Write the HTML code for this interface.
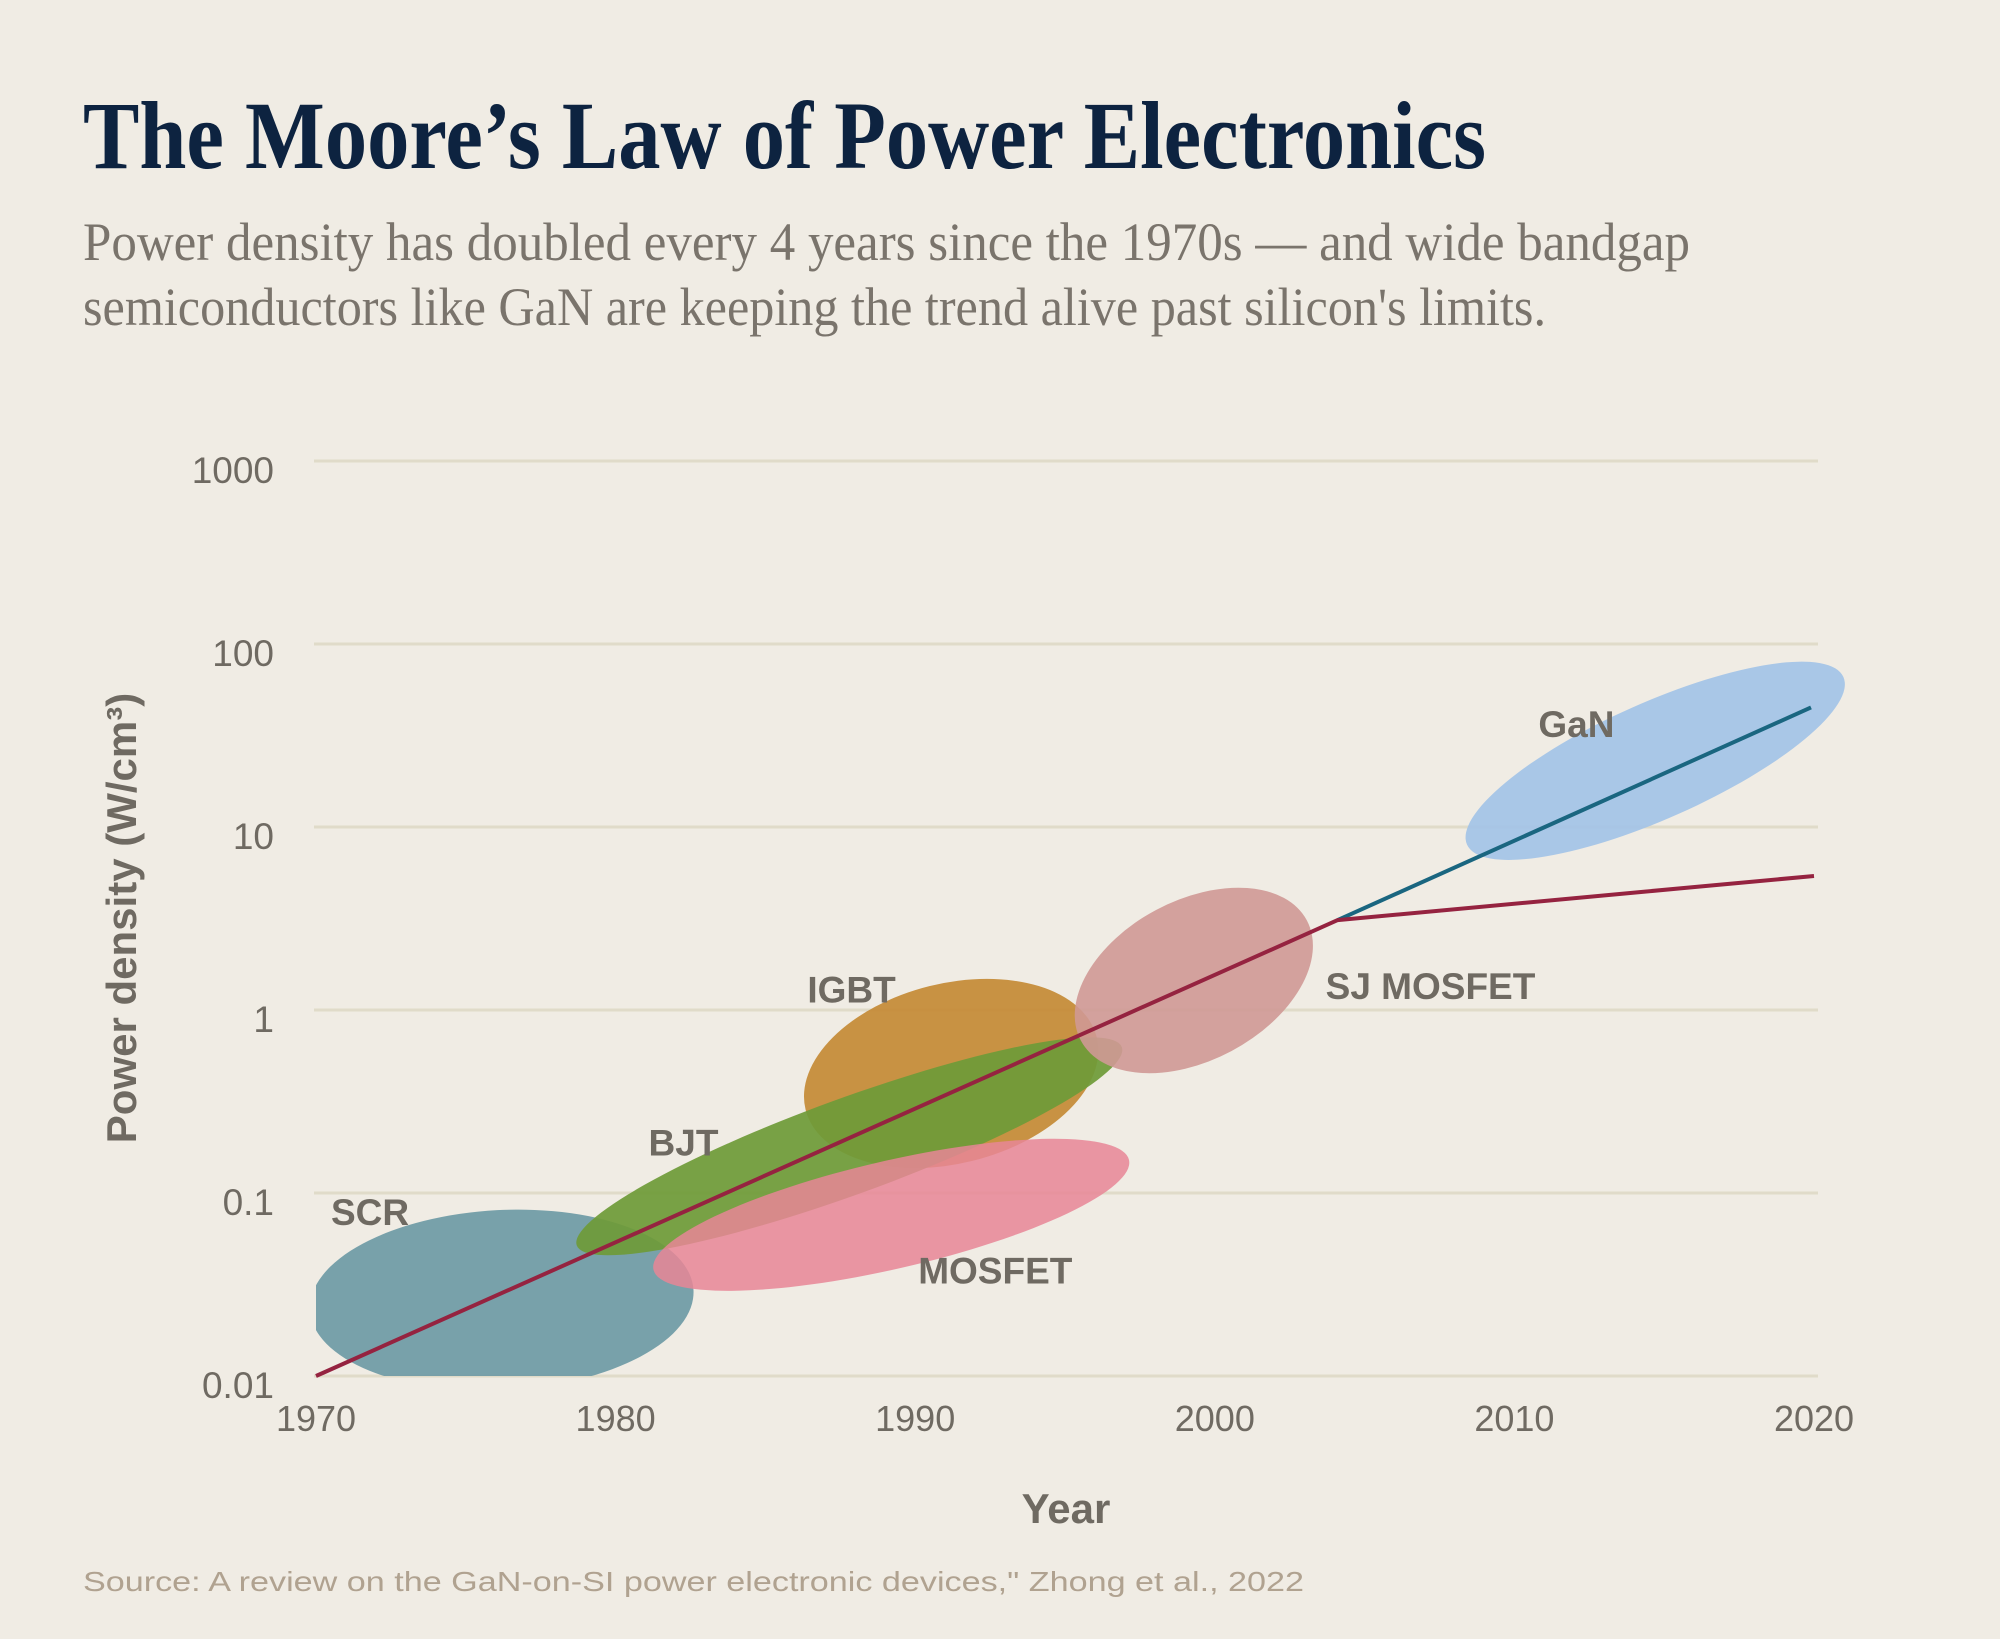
<!DOCTYPE html>
<html><head><meta charset="utf-8"><style>
html,body{margin:0;padding:0;background:#f0ece4;}
svg{display:block;}
</style></head><body>
<svg id="chart" width="2000" height="1639" viewBox="0 0 2000 1639" xmlns="http://www.w3.org/2000/svg">
<rect width="2000" height="1639" fill="#f0ece4"/>
<text x="83" y="168" font-family="Liberation Serif, serif" font-weight="bold" font-size="96" fill="#0d2340" textLength="1403" lengthAdjust="spacingAndGlyphs">The Moore’s Law of Power Electronics</text>
<text x="83" y="260" font-family="Liberation Serif, serif" font-size="54" fill="#7a746c" textLength="1607" lengthAdjust="spacingAndGlyphs">Power density has doubled every 4 years since the 1970s — and wide bandgap</text>
<text x="83" y="325" font-family="Liberation Serif, serif" font-size="54" fill="#7a746c" textLength="1463" lengthAdjust="spacingAndGlyphs">semiconductors like GaN are keeping the trend alive past silicon's limits.</text>
<defs><clipPath id="plotclip"><rect x="316" y="400" width="1684" height="976"/></clipPath></defs>
<g id="grid"></g>
<g id="ytick"></g>
<g id="xtick"></g>
<g id="blobs" clip-path="url(#plotclip)"></g>
<g id="lines"></g>
<g id="labels"></g>
<text transform="translate(136,918) rotate(-90)" text-anchor="middle" font-family="Liberation Sans, sans-serif" font-weight="bold" font-size="42" fill="#6f6a62">Power density (W/cm³)</text>
<text x="1066" y="1523" text-anchor="middle" font-family="Liberation Sans, sans-serif" font-weight="bold" font-size="42" fill="#6f6a62">Year</text>
<text x="83" y="1591" font-family="Liberation Sans, sans-serif" font-size="28" fill="#b0a290" textLength="1221" lengthAdjust="spacingAndGlyphs">Source: A review on the GaN-on-SI power electronic devices," Zhong et al., 2022</text>
</svg>
<script>
const yTicks = [0.01, 0.1, 1, 10, 100, 1000];
const yTickLabels = ["0.01", "0.1", "1", "10", "100", "1000"];
const xTicks = [1970, 1980, 1990, 2000, 2010, 2020];
const deviceNames = ["SCR", "BJT", "IGBT", "MOSFET", "SJ MOSFET", "GaN"];
const deviceYears = [1976.2, 1987.8, 1991.2, 1989.2, 1999.3, 2014.7];
const deviceValues = [0.026, 0.18, 0.45, 0.076, 1.45, 23];
const labelYears = [1970.5, 1981.1, 1986.4, 1990.1, 2003.7, 2010.8];
const labelValues = [0.067, 0.16, 1.1, 0.032, 1.15, 31];
const siYears = [1970, 2004.1, 2020];
const siValues = [0.01, 3.1, 5.4];
const ganYears = [2004.1, 2019.9];
const ganValues = [3.1, 45];

const X0=316, X1=1814, Y0=1376, DEC=183;
function xs(yr){return X0+(yr-1970)/50*(X1-X0);}
function ys(v){return Y0-(Math.log10(v)+2)*DEC;}
const NS="http://www.w3.org/2000/svg";
function mk(tag,attrs,parent){const e=document.createElementNS(NS,tag);for(const k in attrs)e.setAttribute(k,attrs[k]);parent.appendChild(e);return e;}

const grid=document.getElementById('grid'), yt=document.getElementById('ytick'), xt=document.getElementById('xtick');
yTicks.forEach((v,i)=>{
  const l=mk('line',{x1:314,x2:1818,y1:ys(v),y2:ys(v),stroke:'#e0dbc9','stroke-width':3},grid);
  
  
  const t=mk('text',{x:274,y:ys(v)+22,'text-anchor':'end','font-family':'Liberation Sans, sans-serif','font-size':37,fill:'#6f6a62'},yt);
  t.textContent=yTickLabels[i];
  
  
});
xTicks.forEach(yr=>{
  const t=mk('text',{x:xs(yr),y:1431,'text-anchor':'middle','font-family':'Liberation Sans, sans-serif','font-size':36,fill:'#6f6a62'},xt);
  t.textContent=String(yr);
  
  
});

const styles=[
 {rx:192,ry:90,rot:-3,fill:'#6e9aa5',op:0.92},
 {rx:290,ry:48,rot:-20,fill:'#6f9b39',op:0.93},
 {rx:150,ry:90,rot:-14,fill:'#c48a35',op:0.92},
 {rx:244,ry:54,rot:-13,fill:'#e88696',op:0.85},
 {rx:128,ry:80,rot:-28,fill:'#cf9995',op:0.9},
 {rx:206,ry:58,rot:-24,fill:'#a3c3e7',op:0.92}
];
const blobs=document.getElementById('blobs'), labels=document.getElementById('labels');
const order=[0,2,1,3,4,5];
order.forEach(i=>{
  const s=styles[i], cx=xs(deviceYears[i]), cy=ys(deviceValues[i]);
  const e=mk('ellipse',{cx:cx,cy:cy,rx:s.rx,ry:s.ry,transform:`rotate(${s.rot} ${cx} ${cy})`,fill:s.fill,'fill-opacity':s.op},blobs);
  
  
});
deviceNames.forEach((n,i)=>{
  const t=mk('text',{x:xs(labelYears[i]),y:ys(labelValues[i]),'font-family':'Liberation Sans, sans-serif','font-weight':'bold','font-size':37,fill:'#6f6a62'},labels);
  t.textContent=n;
  
  
});
const lines=document.getElementById('lines');
const g=mk('polyline',{points:ganYears.map((y,i)=>xs(y)+','+ys(ganValues[i])).join(' '),fill:'none',stroke:'#1a6680','stroke-width':4},lines);


const si=mk('polyline',{points:siYears.map((y,i)=>xs(y)+','+ys(siValues[i])).join(' '),fill:'none',stroke:'#952340','stroke-width':4,'stroke-linejoin':'round'},lines);


</script>
</body></html>
